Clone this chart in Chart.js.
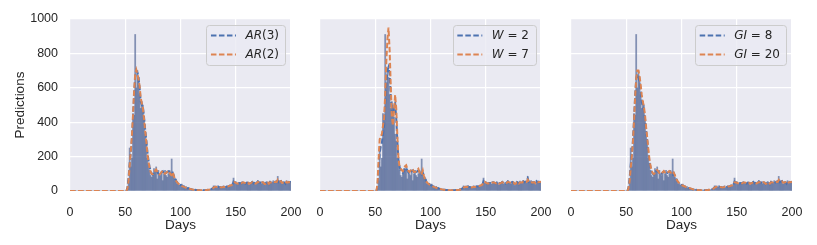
<!DOCTYPE html>
<html>
<head>
<meta charset="utf-8">
<script src="https://cdn.jsdelivr.net/npm/chart.js@4.4.0/dist/chart.umd.min.js"></script>
<style>
  html, body { margin: 0; padding: 0; background: #fff; }
  #wrap { position: relative; width: 817px; height: 245px; overflow: hidden; }
  canvas { position: absolute; top: 0; }
</style>
</head>
<body>
<div id="wrap">
  <canvas id="p1" width="305" height="245" style="left:0px"></canvas>
  <canvas id="p2" width="250" height="245" style="left:305px"></canvas>
  <canvas id="p3" width="261" height="245" style="left:556px"></canvas>
</div>
<script>
// days 0..200
const days = Array.from({ length: 201 }, (_, i) => i);

// nothing happens before day 52
const quietDays = [
  0, 0, 0, 0, 0, 0, 0, 0, 0, 0, 0, 0, 0, 0, 0, 0, 0, 0, 0, 0, 0, 0, 0, 0, 0, 0,
  0, 0, 0, 0, 0, 0, 0, 0, 0, 0, 0, 0, 0, 0, 0, 0, 0, 0, 0, 0, 0, 0, 0, 0, 0, 0,
];

// observed counts, day 52 onwards (bars, same in every panel)
const observed = [...quietDays,
  15, 60, 250, 140, 190, 450, 440, 910, 600, 700, 660, 560, 480, 520, 500, 430, 330, 290, 190, 160,
  120, 90, 80, 100, 130, 120, 140, 70, 120, 100, 90, 110, 60, 100, 120, 90, 80, 100, 120, 110,
  186, 100, 80, 60, 70, 40, 45, 35, 30, 40, 25, 30, 20, 25, 15, 20, 12, 15, 10, 12,
  8, 10, 6, 8, 5, 7, 5, 6, 4, 6, 5, 7, 5, 8, 6, 10, 12, 15, 30, 25,
  28, 22, 30, 20, 25, 18, 22, 30, 20, 25, 28, 22, 30, 35, 30, 40, 75, 45, 55, 40,
  35, 50, 45, 40, 55, 50, 45, 38, 52, 48, 35, 50, 45, 55, 40, 48, 38, 52, 60, 45,
  50, 42, 55, 48, 30, 45, 55, 50, 35, 58, 45, 52, 60, 48, 55, 50, 85, 45, 55, 60,
  40, 52, 50, 38, 60, 45, 55, 50, 55,
];

// panel 1
const ar3 = [...quietDays,
  20, 80, 160, 220, 300, 420, 560, 660, 700, 690, 660, 600, 520, 500, 490, 430, 360, 300, 230, 180,
  140, 115, 100, 95, 105, 115, 120, 110, 100, 95, 100, 110, 115, 105, 100, 105, 110, 115, 110, 100,
  95, 105, 90, 70, 60, 50, 45, 40, 35, 32, 28, 26, 22, 20, 18, 16, 14, 12, 10, 9,
  8, 7, 6, 6, 5, 5, 5, 5, 5, 5, 5, 6, 6, 7, 8, 10, 12, 15, 22, 25,
  26, 24, 25, 22, 22, 20, 22, 25, 22, 24, 26, 25, 28, 32, 32, 36, 55, 50, 48, 44,
  40, 45, 46, 43, 50, 50, 47, 42, 48, 48, 40, 46, 46, 52, 44, 47, 42, 48, 55, 48,
  50, 45, 52, 49, 38, 43, 52, 50, 40, 52, 48, 51, 56, 50, 54, 51, 70, 52, 55, 58,
  45, 50, 50, 42, 55, 48, 53, 50, 55,
];
const ar2 = [...quietDays,
  15, 60, 150, 230, 320, 440, 580, 680, 705, 680, 650, 610, 540, 510, 480, 420, 350, 290, 220, 170,
  135, 110, 100, 98, 108, 118, 125, 112, 102, 96, 102, 112, 118, 108, 100, 104, 112, 118, 108, 96,
  92, 110, 88, 68, 58, 50, 44, 38, 34, 30, 27, 24, 21, 19, 17, 15, 13, 11, 10, 8,
  7, 6, 6, 5, 5, 5, 5, 4, 4, 5, 5, 5, 6, 7, 8, 9, 11, 14, 20, 24,
  25, 24, 26, 23, 22, 21, 22, 24, 23, 25, 27, 26, 29, 31, 33, 38, 50, 52, 47, 45,
  42, 44, 47, 44, 49, 51, 48, 43, 47, 49, 42, 45, 47, 51, 46, 46, 43, 47, 53, 50,
  49, 46, 51, 50, 40, 42, 50, 51, 42, 50, 49, 50, 55, 51, 53, 52, 65, 55, 54, 57,
  47, 49, 51, 44, 53, 49, 52, 51, 54,
];

// panel 2
const w2 = [...quietDays,
  25, 120, 220, 260, 280, 330, 380, 500, 620, 700, 720, 680, 560, 460, 440, 490, 510, 420, 290, 180,
  140, 120, 110, 105, 115, 130, 135, 120, 108, 100, 108, 118, 120, 110, 102, 106, 115, 120, 112, 100,
  96, 108, 90, 68, 58, 50, 44, 40, 35, 32, 28, 25, 22, 20, 18, 16, 14, 12, 10, 9,
  8, 7, 6, 6, 5, 5, 5, 4, 4, 5, 5, 6, 6, 7, 8, 10, 12, 16, 23, 26,
  27, 25, 26, 23, 22, 21, 23, 26, 23, 25, 27, 26, 29, 33, 33, 38, 58, 52, 49, 45,
  41, 46, 47, 44, 51, 51, 48, 43, 49, 49, 41, 47, 47, 53, 45, 48, 43, 49, 56, 49,
  51, 46, 53, 50, 39, 44, 53, 51, 41, 53, 49, 52, 57, 51, 55, 52, 72, 53, 56, 59,
  46, 51, 51, 43, 56, 49, 54, 51, 56,
];
const w7 = [...quietDays,
  40, 180, 300, 320, 330, 380, 420, 560, 750, 880, 950, 820, 620, 430, 380, 470, 560, 480, 320, 190,
  140, 130, 120, 115, 130, 145, 150, 130, 115, 110, 120, 130, 125, 110, 110, 115, 125, 130, 110, 95,
  100, 120, 90, 65, 55, 50, 42, 38, 33, 30, 27, 24, 21, 19, 17, 15, 13, 11, 10, 8,
  7, 6, 5, 5, 4, 4, 4, 4, 4, 4, 5, 5, 6, 6, 7, 9, 11, 14, 20, 23,
  25, 24, 25, 23, 22, 21, 22, 24, 23, 24, 26, 26, 28, 31, 33, 37, 52, 54, 49, 46,
  43, 45, 47, 45, 49, 51, 49, 44, 47, 49, 43, 45, 47, 51, 47, 46, 44, 47, 53, 51,
  50, 47, 51, 51, 41, 42, 50, 52, 43, 50, 50, 50, 55, 52, 53, 53, 66, 57, 55, 57,
  48, 49, 51, 45, 53, 50, 52, 52, 54,
];

// panel 3
const gi8 = [...quietDays,
  20, 70, 150, 210, 290, 410, 550, 650, 680, 670, 640, 590, 520, 490, 470, 420, 350, 290, 220, 170,
  135, 112, 100, 96, 104, 114, 120, 110, 100, 96, 100, 108, 114, 106, 100, 104, 110, 114, 108, 98,
  94, 104, 88, 70, 60, 50, 45, 40, 35, 32, 28, 26, 22, 20, 18, 16, 14, 12, 10, 9,
  8, 7, 6, 6, 5, 5, 5, 5, 5, 5, 5, 6, 6, 7, 8, 10, 12, 15, 22, 25,
  26, 24, 25, 22, 22, 20, 22, 25, 22, 24, 26, 25, 28, 32, 32, 36, 55, 50, 48, 44,
  40, 45, 46, 43, 50, 50, 47, 42, 48, 48, 40, 46, 46, 52, 44, 47, 42, 48, 55, 48,
  50, 45, 52, 49, 38, 43, 52, 50, 40, 52, 48, 51, 56, 50, 54, 51, 70, 52, 55, 58,
  45, 50, 50, 42, 55, 48, 53, 50, 55,
];
const gi20 = [...quietDays,
  15, 55, 130, 200, 280, 400, 540, 650, 700, 700, 670, 620, 560, 520, 490, 440, 370, 310, 240, 185,
  145, 118, 104, 98, 106, 116, 122, 114, 104, 98, 102, 110, 116, 108, 102, 104, 110, 116, 110, 100,
  96, 106, 92, 72, 62, 52, 46, 41, 36, 32, 29, 26, 23, 21, 19, 17, 15, 13, 11, 9,
  8, 7, 6, 6, 5, 5, 5, 5, 5, 5, 5, 5, 6, 7, 8, 9, 11, 14, 20, 23,
  25, 24, 25, 23, 22, 21, 22, 24, 23, 24, 26, 26, 28, 31, 33, 36, 50, 51, 48, 45,
  42, 44, 46, 44, 49, 50, 48, 44, 47, 48, 42, 45, 47, 50, 46, 46, 44, 47, 52, 50,
  49, 46, 51, 50, 41, 43, 50, 51, 43, 50, 49, 50, 54, 51, 53, 52, 64, 55, 54, 56,
  48, 49, 51, 45, 53, 49, 52, 51, 54,
];

const xTicks = { min: 0, max: 200, step: 50 };
const yTicks = { min: 0, max: 1000, step: 200 };

const BLUE = "#4c72b0";
const ORANGE = "#dd8452";
const BAR = "rgba(85, 105, 152, 0.7)";
const TEXT = "#262626";
const SANS = "'Liberation Sans', Arial, sans-serif";

Chart.defaults.font.family = SANS;
Chart.defaults.color = TEXT;

const pts = (series) => days.map((d, i) => ({ x: d, y: series[i] }));

const panelBg = {
  id: "panelBg",
  beforeDraw(chart) {
    const { ctx, chartArea: a } = chart;
    ctx.save();
    ctx.fillStyle = "#eaeaf2";
    ctx.fillRect(a.left, a.top, a.right - a.left, a.bottom - a.top);
    ctx.restore();
  },
};

// legend with matplotlib-style mathtext (italic symbols, upright numbers)
const mathLegend = {
  id: "mathLegend",
  afterDraw(chart, args, opts) {
    const { ctx, chartArea: a } = chart;
    const rows = opts.rows;
    if (!rows) return;
    const font = (it) => (it ? "italic " : "") + "12px 'DejaVu Sans'";
    ctx.save();
    const widths = rows.map((r) =>
      r.parts.reduce((w, [t, it]) => {
        ctx.font = font(it);
        return w + ctx.measureText(t).width;
      }, 0),
    );
    const w = 4.5 + 25 + 9.5 + Math.max(...widths) + 6.5;
    const h = 40;
    const right = a.right - 5.5;
    const top = a.top + 6;
    const left = right - w;

    ctx.beginPath();
    ctx.roundRect(Math.round(left) + 0.5, Math.round(top) + 0.5, Math.round(w), h, 3);
    ctx.fillStyle = "rgba(234, 234, 242, 0.8)";
    ctx.fill();
    ctx.strokeStyle = "#cccccc";
    ctx.lineWidth = 1;
    ctx.stroke();

    rows.forEach((r, i) => {
      const y = top + 10.5 + i * 19;
      ctx.strokeStyle = r.color;
      ctx.lineWidth = 2;
      ctx.setLineDash([5.5, 2.5]);
      ctx.beginPath();
      ctx.moveTo(left + 4.5, y);
      ctx.lineTo(left + 29.5, y);
      ctx.stroke();
      ctx.setLineDash([]);

      let x = left + 39;
      ctx.fillStyle = TEXT;
      ctx.textBaseline = "middle";
      r.parts.forEach(([t, it]) => {
        ctx.font = font(it);
        ctx.fillText(t, x, y);
        x += ctx.measureText(t).width;
      });
    });
    ctx.restore();
  },
};

const makePanel = (id, blue, orange, rows, showY, pad) => {
  return new Chart(document.getElementById(id), {
    type: "bar",
    data: {
      datasets: [
        {
          type: "line",
          data: pts(orange),
          borderColor: ORANGE,
          borderWidth: 2,
          borderDash: [5.5, 2.5],
          pointRadius: 0,
          tension: 0,
          order: 0,
        },
        {
          type: "line",
          data: pts(blue),
          borderColor: BLUE,
          borderWidth: 2,
          borderDash: [5.5, 2.5],
          pointRadius: 0,
          tension: 0,
          order: 1,
        },
        {
          type: "bar",
          data: pts(observed),
          backgroundColor: BAR,
          borderWidth: 0,
          barPercentage: 1,
          categoryPercentage: 1,
          order: 2,
        },
      ],
    },
    options: {
      responsive: false,
      animation: false,
      events: [],
      layout: { padding: pad },
      plugins: {
        legend: { display: false },
        tooltip: { enabled: false },
        mathLegend: { rows },
      },
      scales: {
        x: {
          type: "linear",
          min: xTicks.min,
          max: xTicks.max,
          offset: false,
          grid: { color: "#ffffff", lineWidth: 1.2, drawTicks: false, offset: false },
          border: { display: false },
          ticks: {
            stepSize: xTicks.step,
            padding: 14,
            maxRotation: 0,
            color: TEXT,
            font: { size: 12.5 },
            callback: (v) => String(v),
          },
          title: {
            display: true,
            text: "Days",
            color: TEXT,
            font: { size: 13.5 },
            padding: { top: 0, bottom: 12 },
          },
          afterFit(s) {
            s.height = 54;
            // layout padding below already leaves room for the end labels
            s.paddingLeft = 0;
            s.paddingRight = 0;
          },
        },
        y: {
          min: yTicks.min,
          max: yTicks.max,
          grid: { color: "#ffffff", lineWidth: 1.2, drawTicks: false },
          border: { display: false },
          ticks: {
            display: showY,
            stepSize: yTicks.step,
            padding: 12,
            color: TEXT,
            font: { size: 12.5 },
            callback: (v) => String(v),
          },
          title: {
            display: showY,
            text: "Predictions",
            color: TEXT,
            font: { size: 13.5 },
            padding: { top: 12, bottom: 0 },
          },
          afterFit(s) {
            s.width = showY ? 70 : 0;
            s.paddingTop = 0;
            s.paddingBottom = 0;
          },
        },
      },
    },
    plugins: [panelBg, mathLegend],
  });
};

makePanel(
  "p1", ar3, ar2,
  [
    { color: BLUE, parts: [["AR", true], ["(3)", false]] },
    { color: ORANGE, parts: [["AR", true], ["(2)", false]] },
  ],
  true,
  { left: 0, top: 19, right: 14, bottom: 0 },
);

makePanel(
  "p2", w2, w7,
  [
    { color: BLUE, parts: [["W", true], [" = 2", false]] },
    { color: ORANGE, parts: [["W", true], [" = 7", false]] },
  ],
  false,
  { left: 15, top: 19, right: 14, bottom: 0 },
);

makePanel(
  "p3", gi8, gi20,
  [
    { color: BLUE, parts: [["GI", true], [" = 8", false]] },
    { color: ORANGE, parts: [["GI", true], [" = 20", false]] },
  ],
  false,
  { left: 15, top: 19, right: 25, bottom: 0 },
);
</script>
</body>
</html>
